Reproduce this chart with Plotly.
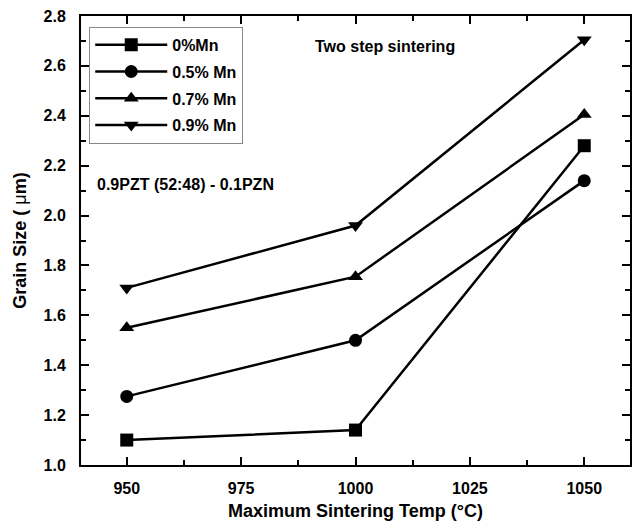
import plotly.graph_objects as go

temps = [950, 1000, 1050]
series_names = ["0%Mn", "0.5% Mn", "0.7% Mn", "0.9% Mn"]
mn_0 = [1.10, 1.14, 2.28]
mn_05 = [1.275, 1.50, 2.14]
mn_07 = [1.55, 1.755, 2.405]
mn_09 = [1.71, 1.96, 2.705]
symbols = ["square", "circle", "triangle-up", "triangle-down"]

FONT = "Liberation Sans, Arial, sans-serif"

fig = go.Figure()
for i, (name, vals, sym) in enumerate(zip(series_names, [mn_0, mn_05, mn_07, mn_09], symbols)):
    fig.add_trace(go.Scatter(
        x=temps, y=vals, name=name, mode="lines+markers",
        line=dict(color="black", width=2.5),
        marker=dict(symbol=sym, size=13, color="black"),
        legendgroup=f"g{i}",
    ))

axis_common = dict(
    showline=True, linecolor="black", linewidth=2, mirror="ticks",
    ticks="inside", ticklen=8, tickwidth=1.5, tickcolor="black",
    showgrid=False, zeroline=False,
    tickfont=dict(family=FONT, size=16, color="black", weight="bold"),
)

fig.update_xaxes(
    range=[940, 1060], tickvals=[950, 975, 1000, 1025, 1050],
    minor=dict(ticks="inside", ticklen=5, tickwidth=1.5, tickcolor="black", dtick=12.5, tick0=950),
    title=dict(text="Maximum Sintering Temp (°C)", font=dict(family=FONT, size=18, color="black", weight="bold"), standoff=8),
    ticklabelstandoff=8,
    **axis_common,
)
fig.update_yaxes(
    range=[1.0, 2.8], dtick=0.2, tick0=1.0, tickformat=".1f",
    minor=dict(ticks="inside", ticklen=5, tickwidth=1.5, tickcolor="black", dtick=0.1),
    title=dict(text="Grain Size ( <span style='font-weight:normal'>μ</span>m)",
               font=dict(family=FONT, size=18, color="black", weight="bold"), standoff=12),
    ticklabelstandoff=10,
    **axis_common,
)

fig.add_annotation(x=0.553, y=0.931, xref="paper", yref="paper", text="<b>Two step sintering</b>",
                   showarrow=False, font=dict(family=FONT, size=16, color="black"), xanchor="center", yanchor="middle")
fig.add_annotation(x=0.025, y=0.624, xref="paper", yref="paper", text="<b>0.9PZT (52:48) - 0.1PZN</b>",
                   showarrow=False, font=dict(family=FONT, size=16, color="black"), xanchor="left", yanchor="middle")

fig.update_layout(
    width=636, height=522,
    margin=dict(l=81, r=4, t=16, b=56),
    paper_bgcolor="white", plot_bgcolor="white",
    showlegend=True,
    legend=dict(x=0.015, y=0.976, xanchor="left", yanchor="top",
                bordercolor="#888888", borderwidth=1, bgcolor="white",
                font=dict(family=FONT, size=16, color="black", weight="bold"),
                tracegroupgap=3, itemwidth=72),
)

fig.write_html("out.html")
